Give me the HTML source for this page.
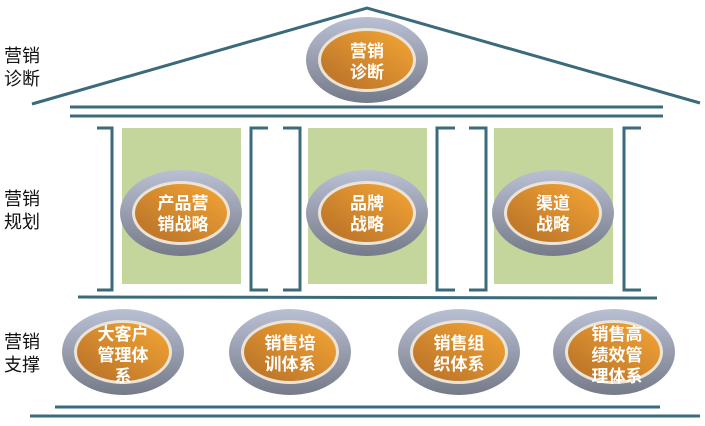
<!DOCTYPE html>
<html><head><meta charset="utf-8"><style>
html,body{margin:0;padding:0;background:#fff;width:705px;height:426px;overflow:hidden}
text{font-family:"Liberation Sans","Noto Sans CJK SC",sans-serif;font-weight:bold}
.l{font-weight:normal}
</style></head><body>
<svg width="705" height="426" viewBox="0 0 705 426" xmlns="http://www.w3.org/2000/svg">
<defs>
<linearGradient id="g" x1="0" y1="0" x2="0" y2="1"><stop offset="0" stop-color="#bac0d4"/><stop offset="1" stop-color="#767b89"/></linearGradient>
<linearGradient id="o" x1="0" y1="1" x2="1" y2="0"><stop offset="0.2" stop-color="#c27a2a"/><stop offset="1" stop-color="#f5a635"/></linearGradient>
<g id="e"><ellipse cx="0" cy="0" rx="61" ry="43" fill="url(#g)"/><ellipse cx="0" cy="0" rx="49" ry="32" fill="#ece4d6"/><ellipse cx="0" cy="0" rx="46" ry="29" fill="url(#o)"/></g>
</defs>
<g stroke="#3b6b7b" stroke-width="3" fill="none">
<polyline points="32,104 367,8 700,103"/>
<line x1="70" y1="107" x2="663" y2="107"/>
<line x1="70" y1="116" x2="663" y2="116"/>
<polyline points="97,128 112,128 112,290 97,290"/>
<polyline points="268,128 251,128 251,290 268,290"/>
<polyline points="283,128 300,128 300,290 283,290"/>
<polyline points="455,128 437,128 437,290 455,290"/>
<polyline points="469,128 486,128 486,290 469,290"/>
<polyline points="641,128 624,128 624,290 641,290"/>
<line x1="78" y1="297" x2="657" y2="298"/>
<line x1="55" y1="407" x2="660" y2="407"/>
<line x1="30" y1="416" x2="700" y2="416"/>
</g>
<g fill="#c4d69b">
<rect x="122" y="128" width="119" height="156"/>
<rect x="308" y="128" width="119" height="156"/>
<rect x="494" y="128" width="119" height="156"/>
</g>
<use href="#e" x="367" y="60"/>
<use href="#e" x="181" y="213"/>
<use href="#e" x="367" y="213"/>
<use href="#e" x="553" y="213"/>
<use href="#e" x="123" y="352"/>
<use href="#e" x="290" y="352"/>
<use href="#e" x="459" y="352"/>
<use href="#e" x="614" y="352"/>
<g fill="#111" font-size="18" class="l">
<text class="l" x="4" y="62">营销</text><text class="l" x="4" y="85">诊断</text>
<text class="l" x="4" y="205">营销</text><text class="l" x="4" y="228">规划</text>
<text class="l" x="4" y="348">营销</text><text class="l" x="4" y="371">支撑</text>
</g>
<g fill="#fff" font-size="17" text-anchor="middle">
<text x="367" y="57">营销</text><text x="367" y="78">诊断</text>
<text x="183" y="209">产品营</text><text x="183" y="230">销战略</text>
<text x="367" y="209">品牌</text><text x="367" y="230">战略</text>
<text x="553" y="209">渠道</text><text x="553" y="230">战略</text>
<text x="123" y="340">大客户</text><text x="123" y="361">管理体</text><text x="123" y="382">系</text>
<text x="290" y="349">销售培</text><text x="290" y="370">训体系</text>
<text x="459" y="349">销售组</text><text x="459" y="370">织体系</text>
<text x="617" y="340">销售高</text><text x="617" y="361">绩效管</text><text x="617" y="382">理体系</text>
</g>
</svg>
</body></html>
